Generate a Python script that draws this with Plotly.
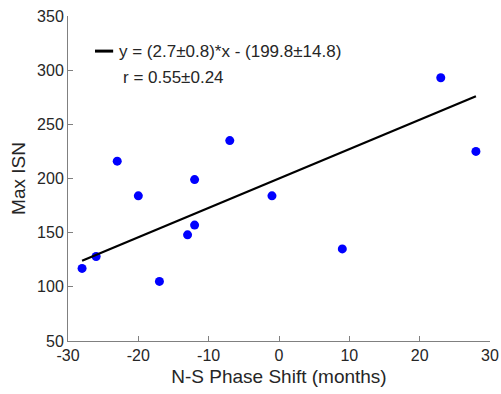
import plotly.graph_objects as go

phase_shift = [-28, -26, -23, -20, -17, -13, -12, -12, -7, -1, 9, 23, 28]
max_isn = [117, 128, 216, 184, 105, 148, 199, 157, 235, 184, 135, 293, 225]

fit_x = [-28, 28]
fit_y = [124, 276]

x_ticks = [-30, -20, -10, 0, 10, 20, 30]
x_tick_labels = ["-30", "-20", "-10", "0", "10", "20", "30"]
y_ticks = [50, 100, 150, 200, 250, 300, 350]
y_tick_labels = ["50", "100", "150", "200", "250", "300", "350"]

fit_label = "y = (2.7±0.8)*x - (199.8±14.8)"
r_label = "r = 0.55±0.24"

FONT = "Liberation Sans, Arial, sans-serif"
TXT = "#262626"

fig = go.Figure()
fig.add_trace(go.Scatter(x=phase_shift, y=max_isn, mode="markers",
                         marker=dict(color="#0000FF", size=9),
                         showlegend=False, hoverinfo="x+y"))
fig.add_trace(go.Scatter(x=fit_x, y=fit_y, mode="lines",
                         line=dict(color="black", width=2.2),
                         showlegend=False))

# legend drawn manually
fig.add_shape(type="line", xref="paper", yref="paper",
              x0=0.064, x1=0.107, y0=0.892, y1=0.892,
              line=dict(color="black", width=3))
fig.add_annotation(xref="paper", yref="paper", x=0.116, y=0.892,
                   text=fit_label, showarrow=False, xanchor="left", yanchor="middle",
                   font=dict(family=FONT, size=17, color=TXT))
fig.add_annotation(xref="paper", yref="paper", x=0.126, y=0.812,
                   text=r_label, showarrow=False, xanchor="left", yanchor="middle",
                   font=dict(family=FONT, size=17, color=TXT))

axis_common = dict(showgrid=False, zeroline=False, showline=True,
                   linecolor="#808080", linewidth=1,
                   ticks="inside", ticklen=5, tickcolor="#808080",
                   tickfont=dict(family=FONT, size=16, color=TXT),
                   mirror=False, automargin=False,
                   ticklabeloverflow="allow")

fig.update_xaxes(range=[-30, 30], tickvals=x_ticks, ticktext=x_tick_labels,
                 title=dict(text="N-S Phase Shift (months)", standoff=6,
                            font=dict(family=FONT, size=19, color=TXT)),
                 **axis_common)
fig.update_yaxes(range=[50, 350], tickvals=y_ticks, ticktext=y_tick_labels,
                 title=dict(text="Max ISN", standoff=6,
                            font=dict(family=FONT, size=19, color=TXT)),
                 **axis_common)

fig.update_layout(width=501, height=394,
                  margin=dict(l=68, r=11, t=16, b=53),
                  plot_bgcolor="white", paper_bgcolor="white",
                  font=dict(family=FONT))

# remove the page's default body margin so the figure fills the window exactly
fig.write_html("out.html", config={"displayModeBar": False},
               post_script="document.body.style.margin='0px';")
